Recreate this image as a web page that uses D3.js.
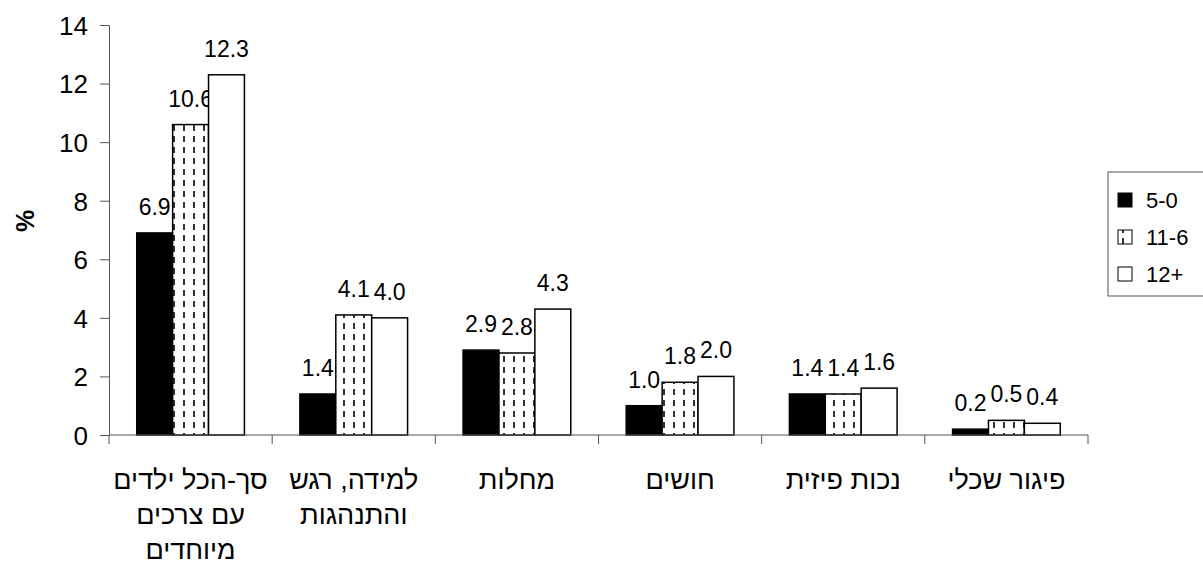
<!DOCTYPE html>
<html>
<head>
<meta charset="utf-8">
<script src="https://cdn.jsdelivr.net/npm/d3@7"></script>
<style>
  body { margin: 0; background: #fff; }
  svg text { font-family: "Liberation Sans", Arial, sans-serif; fill: #000; }
</style>
</head>
<body>
<div id="chart"></div>
<script>
// categories (left to right), each may wrap onto several lines
const categories = [
    ["סך-הכל ילדים", "עם צרכים", "מיוחדים"],
    ["למידה, רגש", "והתנהגות"],
    ["מחלות"],
    ["חושים"],
    ["נכות פיזית"],
    ["פיגור שכלי"]
];
const seriesNames = ["5-0", "11-6", "12+"];
const values05 = [6.9, 1.4, 2.9, 1.0, 1.4, 0.2];
const values611 = [10.6, 4.1, 2.8, 1.8, 1.4, 0.5];
const values12 = [12.3, 4.0, 4.3, 2.0, 1.6, 0.4];
const yTicks = [0, 2, 4, 6, 8, 10, 12, 14];

const seriesValues = [values05, values611, values12];

const width = 1203, height = 561;
const margin = {top: 25, right: 115, bottom: 126, left: 109};
const innerWidth = width - margin.left - margin.right;
const innerHeight = height - margin.top - margin.bottom;

const svg = d3.select("#chart").append("svg")
    .attr("width", width).attr("height", height);

// dashed fill for middle series
const defs = svg.append("defs");
const pat = defs.append("pattern")
    .attr("id", "dash")
    .attr("patternUnits", "userSpaceOnUse")
    .attr("width", 10).attr("height", 11);
pat.append("rect").attr("width", 10).attr("height", 11).attr("fill", "#fff");
pat.append("line")
    .attr("x1", 5).attr("x2", 5).attr("y1", 1).attr("y2", 7)
    .attr("stroke", "#333").attr("stroke-width", 2);

const fills = ["#000", "url(#dash)", "#fff"];

const g = svg.append("g").attr("transform", `translate(${margin.left},${margin.top})`);

const catIdx = categories.map((d, i) => i);
const x = d3.scaleBand().domain(catIdx).range([0, innerWidth]).paddingInner(0.34).paddingOuter(0.17);
const xStep = d3.scaleBand().domain(catIdx).range([0, innerWidth]);
const xs = d3.scaleBand().domain(d3.range(seriesNames.length)).range([0, x.bandwidth()]);
const y = d3.scaleLinear().domain([0, 14]).range([innerHeight, 0]);

// bars
seriesValues.forEach((vals, s) => {
    g.append("g").selectAll("rect")
        .data(vals)
        .join("rect")
        .attr("x", (d, i) => x(i) + xs(s))
        .attr("y", d => y(d))
        .attr("width", xs.bandwidth())
        .attr("height", d => y(0) - y(d))
        .attr("fill", fills[s])
        .attr("stroke", "#000")
        .attr("stroke-width", 1.5);

    g.append("g").selectAll("text")
        .data(vals)
        .join("text")
        .attr("x", (d, i) => x(i) + xs(s) + xs.bandwidth() / 2)
        .attr("y", d => y(d) - 18)
        .attr("text-anchor", "middle")
        .style("font-size", "23px")
        .text(d => d.toFixed(1));
});

// y axis
const yAxis = g.append("g")
    .call(d3.axisLeft(y).tickValues(yTicks).tickSize(9).tickPadding(12).tickSizeOuter(0));
yAxis.selectAll("text").style("font-size", "26px").attr("dy", "0.36em");
yAxis.selectAll("line, path").attr("stroke", "#555");

// x axis with ticks at category boundaries
const xAxisG = g.append("g").attr("transform", `translate(0,${innerHeight})`);
xAxisG.append("line").attr("x1", 0).attr("x2", innerWidth).attr("stroke", "#555");
xAxisG.selectAll("line.tick")
    .data(d3.range(categories.length + 1))
    .join("line")
    .attr("class", "tick")
    .attr("x1", i => i < categories.length ? xStep(i) : innerWidth)
    .attr("x2", i => i < categories.length ? xStep(i) : innerWidth)
    .attr("y1", 0).attr("y2", 9)
    .attr("stroke", "#555");

const labels = xAxisG.selectAll("text.cat")
    .data(categories)
    .join("text")
    .attr("class", "cat")
    .attr("text-anchor", "middle")
    .style("font-size", "27px")
    .attr("transform", (d, i) => `translate(${xStep(i) + xStep.bandwidth() / 2},54)`);
labels.selectAll("tspan")
    .data(d => d)
    .join("tspan")
    .attr("x", 0)
    .attr("y", (d, i) => i * 35)
    .text(d => d);

// y title
svg.append("text")
    .attr("transform", "translate(34,221) rotate(-90)")
    .attr("text-anchor", "middle")
    .style("font-size", "25px")
    .attr("font-weight", "bold")
    .text("%");

// legend
const legend = svg.append("g").attr("transform", "translate(1108,172)");
legend.append("rect")
    .attr("width", 110).attr("height", 124)
    .attr("fill", "#fff").attr("stroke", "#555");
seriesNames.forEach((name, i) => {
    const row = legend.append("g").attr("transform", `translate(10,${28 + i * 37})`);
    row.append("rect")
        .attr("x", 0).attr("y", -7).attr("width", 14).attr("height", 14)
        .attr("fill", fills[i]).attr("stroke", "#000").attr("stroke-width", 1);
    row.append("text")
        .attr("x", 28).attr("y", 8)
        .style("font-size", "22px")
        .text(name);
});
</script>
</body>
</html>
